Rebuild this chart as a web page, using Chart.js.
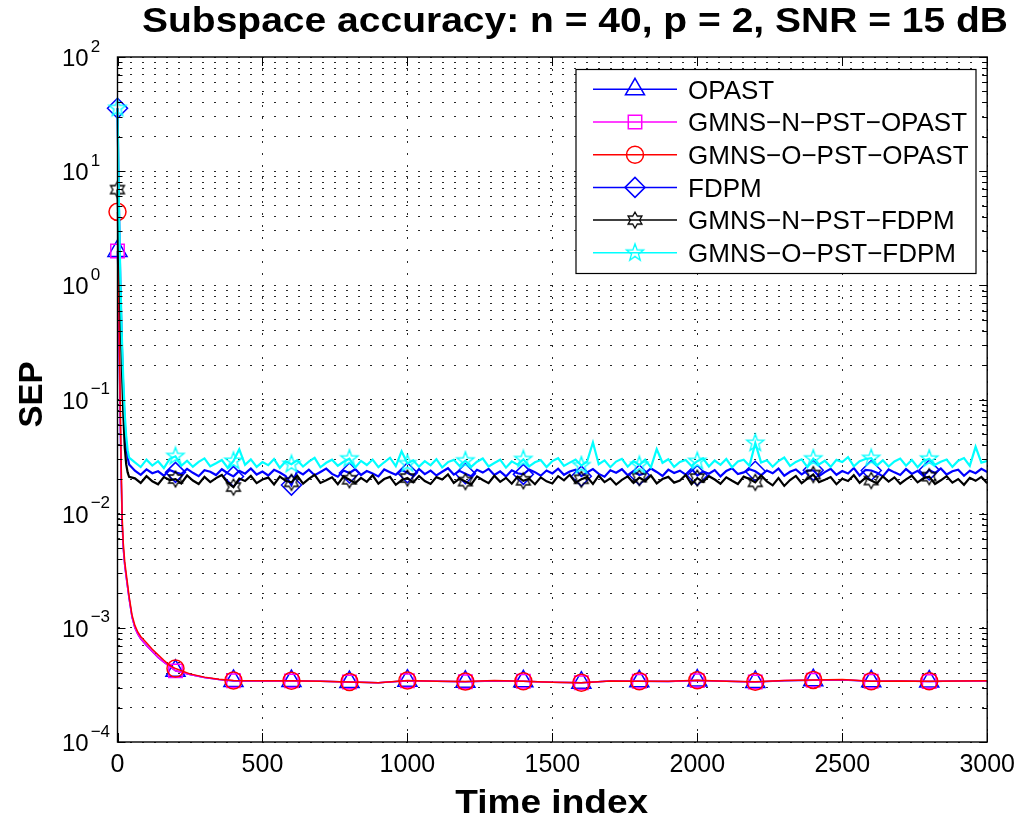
<!DOCTYPE html>
<html>
<head>
<meta charset="utf-8">
<title>Subspace accuracy</title>
<script src="https://cdn.jsdelivr.net/npm/chart.js@4.4.1/dist/chart.umd.min.js"></script>
<style>
  html, body { margin: 0; padding: 0; background: #fff; }
</style>
</head>
<body>
<canvas id="sepChart" width="1023" height="824"></canvas>
<script>
'use strict';

// ---- data ----
const seriesLabels = [
    'OPAST',
    'GMNS\u2212N\u2212PST\u2212OPAST',
    'GMNS\u2212O\u2212PST\u2212OPAST',
    'FDPM',
    'GMNS\u2212N\u2212PST\u2212FDPM',
    'GMNS\u2212O\u2212PST\u2212FDPM'
];
const xTicks = [0, 500, 1000, 1500, 2000, 2500, 3000];
const yTickExponents = [-4, -3, -2, -1, 0, 1, 2];

// OPAST family (smooth curves)
const timeSmooth = [0, 4, 8, 12, 16, 20, 25, 30, 40, 50, 60, 70, 80, 100, 120, 140, 160, 180, 200, 250, 300, 350, 400,
    500, 600, 700, 800, 900, 1000, 1100, 1200, 1300, 1400, 1500, 1600, 1700, 1800, 1900, 2000,
    2100, 2200, 2300, 2400, 2500, 2600, 2700, 2800, 2900, 3000];
const opast = [2.0, 0.5, 0.11, 0.026, 0.0082, 0.0049, 0.0035, 0.0028, 0.0018, 0.00124, 0.001, 0.00088, 0.0008,
    0.0007, 0.00062, 0.00055, 0.0005, 0.00046, 0.00042, 0.00039, 0.000368, 0.000352, 0.000343,
    0.000342, 0.000342, 0.00034, 0.000335, 0.000331, 0.000344, 0.00034, 0.000337, 0.000343, 0.00034,
    0.000333, 0.000331, 0.000342, 0.00034, 0.000339, 0.000345, 0.00034, 0.000336, 0.000344, 0.000348,
    0.00035, 0.00034, 0.000342, 0.000339, 0.000342, 0.000343];
const gmnsNOpast = [2.0, 0.55, 0.12, 0.027, 0.0085, 0.005, 0.0035, 0.0028, 0.0018, 0.00125, 0.001, 0.00088, 0.0008,
    0.0007, 0.00062, 0.00055, 0.0005, 0.00046, 0.00042, 0.00039, 0.000368, 0.000352, 0.000344,
    0.000342, 0.000343, 0.00034, 0.000335, 0.000331, 0.000344, 0.00034, 0.000337, 0.000344, 0.00034,
    0.000333, 0.00033, 0.000342, 0.00034, 0.000339, 0.000345, 0.00034, 0.000336, 0.000345, 0.000348,
    0.000351, 0.00034, 0.000342, 0.000339, 0.000342, 0.000343];
const gmnsOOpast = [4.4, 0.9, 0.17, 0.035, 0.0095, 0.0055, 0.0038, 0.003, 0.0019, 0.0013, 0.00105, 0.00092, 0.00084,
    0.00074, 0.00065, 0.00058, 0.00052, 0.00047, 0.00044, 0.000395, 0.00037, 0.000355, 0.000346,
    0.000344, 0.000344, 0.000341, 0.000336, 0.00033, 0.000346, 0.000341, 0.000338, 0.000345, 0.000341,
    0.000334, 0.00033, 0.000343, 0.000341, 0.00034, 0.000347, 0.000341, 0.000337, 0.000346, 0.00035,
    0.000353, 0.000341, 0.000343, 0.00034, 0.000343, 0.000344];

// FDPM family (noisy curves): start-up part, then every 20 samples
const timeNoisy = [0, 5, 10, 15, 20, 25, 30, 35, 40,
    60, 80, 100, 120, 140, 160, 180, 200, 220, 240,
    260, 280, 300, 320, 340, 360, 380, 400, 420, 440,
    460, 480, 500, 520, 540, 560, 580, 600, 620, 640,
    660, 680, 700, 720, 740, 760, 780, 800, 820, 840,
    860, 880, 900, 920, 940, 960, 980, 1000, 1020, 1040,
    1060, 1080, 1100, 1120, 1140, 1160, 1180, 1200, 1220, 1240,
    1260, 1280, 1300, 1320, 1340, 1360, 1380, 1400, 1420, 1440,
    1460, 1480, 1500, 1520, 1540, 1560, 1580, 1600, 1620, 1640,
    1660, 1680, 1700, 1720, 1740, 1760, 1780, 1800, 1820, 1840,
    1860, 1880, 1900, 1920, 1940, 1960, 1980, 2000, 2020, 2040,
    2060, 2080, 2100, 2120, 2140, 2160, 2180, 2200, 2220, 2240,
    2260, 2280, 2300, 2320, 2340, 2360, 2380, 2400, 2420, 2440,
    2460, 2480, 2500, 2520, 2540, 2560, 2580, 2600, 2620, 2640,
    2660, 2680, 2700, 2720, 2740, 2760, 2780, 2800, 2820, 2840,
    2860, 2880, 2900, 2920, 2940, 2960, 2980, 3000];
const fdpm = [35.6, 4.6, 0.95, 0.3, 0.12, 0.062, 0.04, 0.031, 0.027,
    0.0238, 0.0219, 0.0244, 0.0226, 0.0235, 0.0215, 0.0241, 0.0230, 0.0222, 0.0247,
    0.0228, 0.0213, 0.0240, 0.0233, 0.0218, 0.0245, 0.0226, 0.0212, 0.0237, 0.0224,
    0.0249, 0.0220, 0.0234, 0.0216, 0.0242, 0.0229, 0.0214, 0.0178, 0.0236, 0.0221,
    0.0243, 0.0217, 0.0232, 0.0248, 0.0223, 0.0211, 0.0239, 0.0227, 0.0245, 0.0218,
    0.0236, 0.0225, 0.0212, 0.0244, 0.0231, 0.0219, 0.0241, 0.0228, 0.0214, 0.0246,
    0.0222, 0.0238, 0.0216, 0.0233, 0.0250, 0.0220, 0.0237, 0.0224, 0.0213, 0.0242,
    0.0229, 0.0247, 0.0218, 0.0235, 0.0212, 0.0240, 0.0226, 0.0221, 0.0244, 0.0231,
    0.0215, 0.0239, 0.0225, 0.0248, 0.0219, 0.0234, 0.0243, 0.0213, 0.0230, 0.0246,
    0.0223, 0.0211, 0.0240, 0.0228, 0.0245, 0.0217, 0.0236, 0.0218, 0.0226, 0.0249,
    0.0232, 0.0214, 0.0243, 0.0227, 0.0238, 0.0220, 0.0247, 0.0216, 0.0234, 0.0224,
    0.0241, 0.0212, 0.0237, 0.0250, 0.0222, 0.0230, 0.0245, 0.0235, 0.0217, 0.0239,
    0.0226, 0.0248, 0.0215, 0.0233, 0.0244, 0.0221, 0.0238, 0.0240, 0.0213, 0.0231,
    0.0247, 0.0219, 0.0236, 0.0225, 0.0251, 0.0216, 0.0242, 0.0239, 0.0228, 0.0212,
    0.0244, 0.0230, 0.0218, 0.0246, 0.0223, 0.0237, 0.0214, 0.0241, 0.0227, 0.0249,
    0.0220, 0.0235, 0.0243, 0.0215, 0.0238, 0.0226, 0.0247, 0.0232];
const gmnsNFdpm = [6.9, 1.9, 0.62, 0.2, 0.075, 0.038, 0.027, 0.023, 0.021,
    0.0204, 0.0186, 0.0213, 0.0192, 0.0181, 0.0209, 0.0197, 0.0201, 0.0184, 0.0216,
    0.0195, 0.0182, 0.0210, 0.0189, 0.0205, 0.0218, 0.0187, 0.0171, 0.0203, 0.0193,
    0.0214, 0.0185, 0.0199, 0.0207, 0.0180, 0.0211, 0.0194, 0.0188, 0.0215, 0.0183,
    0.0202, 0.0219, 0.0186, 0.0196, 0.0208, 0.0181, 0.0212, 0.0198, 0.0185, 0.0206,
    0.0190, 0.0217, 0.0183, 0.0201, 0.0210, 0.0179, 0.0196, 0.0205, 0.0188, 0.0214,
    0.0193, 0.0182, 0.0209, 0.0199, 0.0221, 0.0186, 0.0203, 0.0191, 0.0180, 0.0212,
    0.0197, 0.0185, 0.0215, 0.0190, 0.0206, 0.0183, 0.0211, 0.0194, 0.0202, 0.0181,
    0.0208, 0.0192, 0.0184, 0.0213, 0.0196, 0.0219, 0.0187, 0.0200, 0.0209, 0.0182,
    0.0215, 0.0189, 0.0204, 0.0180, 0.0198, 0.0212, 0.0186, 0.0207, 0.0193, 0.0216,
    0.0184, 0.0201, 0.0210, 0.0187, 0.0195, 0.0218, 0.0181, 0.0205, 0.0190, 0.0213,
    0.0199, 0.0183, 0.0208, 0.0194, 0.0182, 0.0211, 0.0201, 0.0188, 0.0216, 0.0192,
    0.0177, 0.0205, 0.0175, 0.0197, 0.0214, 0.0185, 0.0203, 0.0220, 0.0189, 0.0198,
    0.0209, 0.0181, 0.0202, 0.0193, 0.0217, 0.0186, 0.0206, 0.0195, 0.0184, 0.0212,
    0.0191, 0.0208, 0.0183, 0.0200, 0.0215, 0.0188, 0.0204, 0.0211, 0.0182, 0.0196,
    0.0213, 0.0187, 0.0201, 0.0179, 0.0206, 0.0194, 0.0210, 0.0185];
const gmnsOFdpm = [35.6, 5.2, 1.1, 0.36, 0.15, 0.075, 0.048, 0.036, 0.031,
    0.0281, 0.0256, 0.0297, 0.0264, 0.0288, 0.0251, 0.0302, 0.0318, 0.0262, 0.0291,
    0.0258, 0.0284, 0.0305, 0.0260, 0.0276, 0.0295, 0.0253, 0.0289, 0.0366, 0.0268,
    0.0299, 0.0257, 0.0283, 0.0266, 0.0301, 0.0252, 0.0287, 0.0271, 0.0294, 0.0259,
    0.0286, 0.0308, 0.0255, 0.0279, 0.0297, 0.0263, 0.0285, 0.0303, 0.0254, 0.0290,
    0.0267, 0.0298, 0.0256, 0.0282, 0.0309, 0.0261, 0.0352, 0.0275, 0.0293, 0.0258,
    0.0288, 0.0265, 0.0300, 0.0254, 0.0283, 0.0296, 0.0262, 0.0291, 0.0257, 0.0285,
    0.0304, 0.0259, 0.0278, 0.0297, 0.0253, 0.0287, 0.0269, 0.0299, 0.0260, 0.0282,
    0.0295, 0.0256, 0.0289, 0.0306, 0.0262, 0.0280, 0.0298, 0.0264, 0.0287, 0.0420,
    0.0271, 0.0293, 0.0255, 0.0286, 0.0302, 0.0258, 0.0290, 0.0266, 0.0297, 0.0254,
    0.0368, 0.0279, 0.0300, 0.0257, 0.0284, 0.0295, 0.0261, 0.0288, 0.0305, 0.0259,
    0.0292, 0.0268, 0.0301, 0.0255, 0.0286, 0.0297, 0.0263, 0.0415, 0.0281, 0.0294,
    0.0258, 0.0289, 0.0310, 0.0262, 0.0284, 0.0299, 0.0256, 0.0303, 0.0270, 0.0291,
    0.0257, 0.0296, 0.0283, 0.0312, 0.0260, 0.0288, 0.0301, 0.0306, 0.0265, 0.0293,
    0.0259, 0.0287, 0.0304, 0.0263, 0.0296, 0.0255, 0.0290, 0.0302, 0.0268, 0.0285,
    0.0298, 0.0257, 0.0291, 0.0307, 0.0262, 0.0385, 0.0280, 0.0289];

// ---- helpers ----
const FONT = '"Liberation Sans", Arial, Helvetica, sans-serif';
const MARKER_STEP = 200;

function toPoints(xs, ys) {
    return xs.map((x, i) => ({x: x, y: ys[i]}));
}

// marker only every MARKER_STEP samples, like matlab's sparse markers
function markerRadius(r) {
    return ctx => (ctx.raw && ctx.raw.x % MARKER_STEP === 0 && ctx.raw.x < 3000) ? r : 0;
}

// hollow star (pentagram / hexagram) as an image point style
function makeStar(points, outer, inner, color) {
    const size = Math.ceil(outer * 2 + 4);
    const c = document.createElement('canvas');
    c.width = size;
    c.height = size;
    const g = c.getContext('2d');
    g.strokeStyle = color;
    g.lineWidth = 1.3;
    g.beginPath();
    for (let i = 0; i < points * 2; i++) {
        const r = i % 2 === 0 ? outer : inner;
        const a = -Math.PI / 2 + i * Math.PI / points;
        const px = size / 2 + r * Math.cos(a);
        const py = size / 2 + r * Math.sin(a);
        if (i === 0) g.moveTo(px, py); else g.lineTo(px, py);
    }
    g.closePath();
    g.stroke();
    return c;
}

const hexagram = makeStar(6, 8, 4.6, '#000000');
const pentagram = makeStar(5, 9, 3.6, '#00ffff');

function series(label, xs, ys, color, style, radius, order, width) {
    return {
        label: label,
        data: toPoints(xs, ys),
        borderColor: color,
        backgroundColor: 'rgba(0,0,0,0)',
        borderWidth: width,
        pointStyle: style,
        pointRadius: markerRadius(radius),
        pointBorderColor: color,
        pointBackgroundColor: 'rgba(0,0,0,0)',
        pointBorderWidth: 1.5,
        legendRadius: radius,
        tension: 0,
        clip: false,
        order: order
    };
}

// y grid at every decade and its minor steps
const yGrid = [];
yTickExponents.forEach(e => {
    for (let m = 1; m <= (e === 2 ? 1 : 9); m++) yGrid.push(m * Math.pow(10, e));
});
const isDecade = v => Math.abs(Math.log10(v) - Math.round(Math.log10(v))) < 1e-9;

// axes box, inside ticks, labels, legend
const matlabFrame = {
    id: 'matlabFrame',
    afterDraw(chart) {
        const ctx = chart.ctx;
        const a = chart.chartArea;
        const xs = chart.scales.x;
        const ys = chart.scales.y;
        ctx.save();

        // ticks
        ctx.strokeStyle = '#000';
        ctx.lineWidth = 1;
        ctx.beginPath();
        yGrid.forEach(v => {
            const py = Math.round(ys.getPixelForValue(v)) + 0.5;
            const len = isDecade(v) ? 8 : 5;
            ctx.moveTo(a.left, py); ctx.lineTo(a.left + len, py);
            ctx.moveTo(a.right, py); ctx.lineTo(a.right - len, py);
        });
        xTicks.forEach(v => {
            const px = Math.round(xs.getPixelForValue(v)) + 0.5;
            ctx.moveTo(px, a.bottom); ctx.lineTo(px, a.bottom - 9);
            ctx.moveTo(px, a.top); ctx.lineTo(px, a.top + 9);
        });
        ctx.stroke();

        // box
        ctx.lineWidth = 1.4;
        ctx.strokeRect(a.left, a.top, a.right - a.left, a.bottom - a.top);

        // y tick labels 10^e
        ctx.fillStyle = '#000';
        ctx.textAlign = 'left';
        ctx.textBaseline = 'alphabetic';
        yTickExponents.forEach(e => {
            const py = ys.getPixelForValue(Math.pow(10, e));
            ctx.font = '24px ' + FONT;
            ctx.fillText('10', 62, py + 9);
            const w = ctx.measureText('10').width;
            ctx.font = '17px ' + FONT;
            ctx.fillText(e < 0 ? '\u2212' + Math.abs(e) : String(e), 62 + w + 2, py - 5.5);
        });

        // stretched bold texts (title, x label)
        function wideText(txt, size, cx, by, width) {
            ctx.font = 'bold ' + size + 'px ' + FONT;
            const sx = width / ctx.measureText(txt).width;
            ctx.save();
            ctx.translate(cx, by);
            ctx.scale(sx, 1);
            ctx.textAlign = 'center';
            ctx.fillText(txt, 0, 0);
            ctx.restore();
        }
        wideText('Subspace accuracy: n = 40, p = 2, SNR = 15 dB', 35, 575, 31.7, 866);
        wideText('Time index', 33, 551.7, 812.7, 193);

        ctx.save();
        ctx.translate(42, 394.5);
        ctx.rotate(-Math.PI / 2);
        ctx.font = 'bold 33px ' + FONT;
        ctx.textAlign = 'center';
        ctx.fillText('SEP', 0, 0);
        ctx.restore();

        // legend box
        const lx = 576, ly = 69.5, lw = 400, lh = 204;
        ctx.fillStyle = '#fff';
        ctx.fillRect(lx, ly, lw, lh);
        ctx.strokeStyle = '#000';
        ctx.lineWidth = 1.2;
        ctx.strokeRect(lx, ly, lw, lh);
        chart.data.datasets.forEach((ds, i) => {
            const ry = 89.3 + i * 32.7;
            ctx.strokeStyle = ds.borderColor;
            ctx.lineWidth = 1.5;
            ctx.beginPath();
            ctx.moveTo(593, ry);
            ctx.lineTo(677, ry);
            ctx.stroke();
            ctx.fillStyle = 'rgba(0,0,0,0)';
            Chart.helpers.drawPoint(ctx, {
                pointStyle: ds.pointStyle,
                radius: ds.legendRadius,
                rotation: 0,
                borderWidth: 1.5
            }, 635, ry);
            ctx.fillStyle = '#000';
            ctx.font = '26px ' + FONT;
            ctx.textAlign = 'left';
            ctx.fillText(ds.label, 688, ry + 9.3);
        });

        ctx.restore();
    }
};

Chart.defaults.font.family = FONT;
Chart.defaults.color = '#000';

const gridStyle = {color: '#2a2a2a', lineWidth: 1, drawTicks: false};

new Chart(document.getElementById('sepChart').getContext('2d'), {
    type: 'line',
    data: {
        datasets: [
            series(seriesLabels[0], timeSmooth, opast, '#0000ff', 'triangle', 11, 6, 1.5),
            series(seriesLabels[1], timeSmooth, gmnsNOpast, '#ff00ff', 'rect', 9.5, 5, 1.5),
            series(seriesLabels[2], timeSmooth, gmnsOOpast, '#ff0000', 'circle', 8.5, 4, 1.5),
            series(seriesLabels[3], timeNoisy, fdpm, '#0000ff', 'rectRot', 10, 3, 2.2),
            series(seriesLabels[4], timeNoisy, gmnsNFdpm, '#000000', hexagram, 8, 2, 2.2),
            series(seriesLabels[5], timeNoisy, gmnsOFdpm, '#00ffff', pentagram, 9, 1, 2.2)
        ]
    },
    options: {
        responsive: false,
        animation: false,
        devicePixelRatio: 1,
        layout: {padding: {top: 57, right: 34.5, bottom: 0, left: 0}},
        plugins: {
            legend: {display: false},
            title: {display: false},
            tooltip: {enabled: false}
        },
        scales: {
            x: {
                type: 'linear',
                min: 0,
                max: 3000,
                afterBuildTicks: s => { s.ticks = xTicks.map(v => ({value: v})); },
                afterFit: s => { s.height = 82; },
                ticks: {
                    font: {size: 25},
                    color: '#000',
                    padding: 8,
                    maxRotation: 0,
                    autoSkip: false,
                    callback: v => String(v)
                },
                grid: gridStyle,
                border: {display: false, dash: [2, 10]}
            },
            y: {
                type: 'logarithmic',
                min: 1e-4,
                max: 100,
                afterBuildTicks: s => { s.ticks = yGrid.map(v => ({value: v})); },
                afterFit: s => { s.width = 117.5; },
                ticks: {display: false},
                grid: gridStyle,
                border: {display: false, dash: [2, 10]}
            }
        }
    },
    plugins: [matlabFrame]
});
</script>
</body>
</html>
